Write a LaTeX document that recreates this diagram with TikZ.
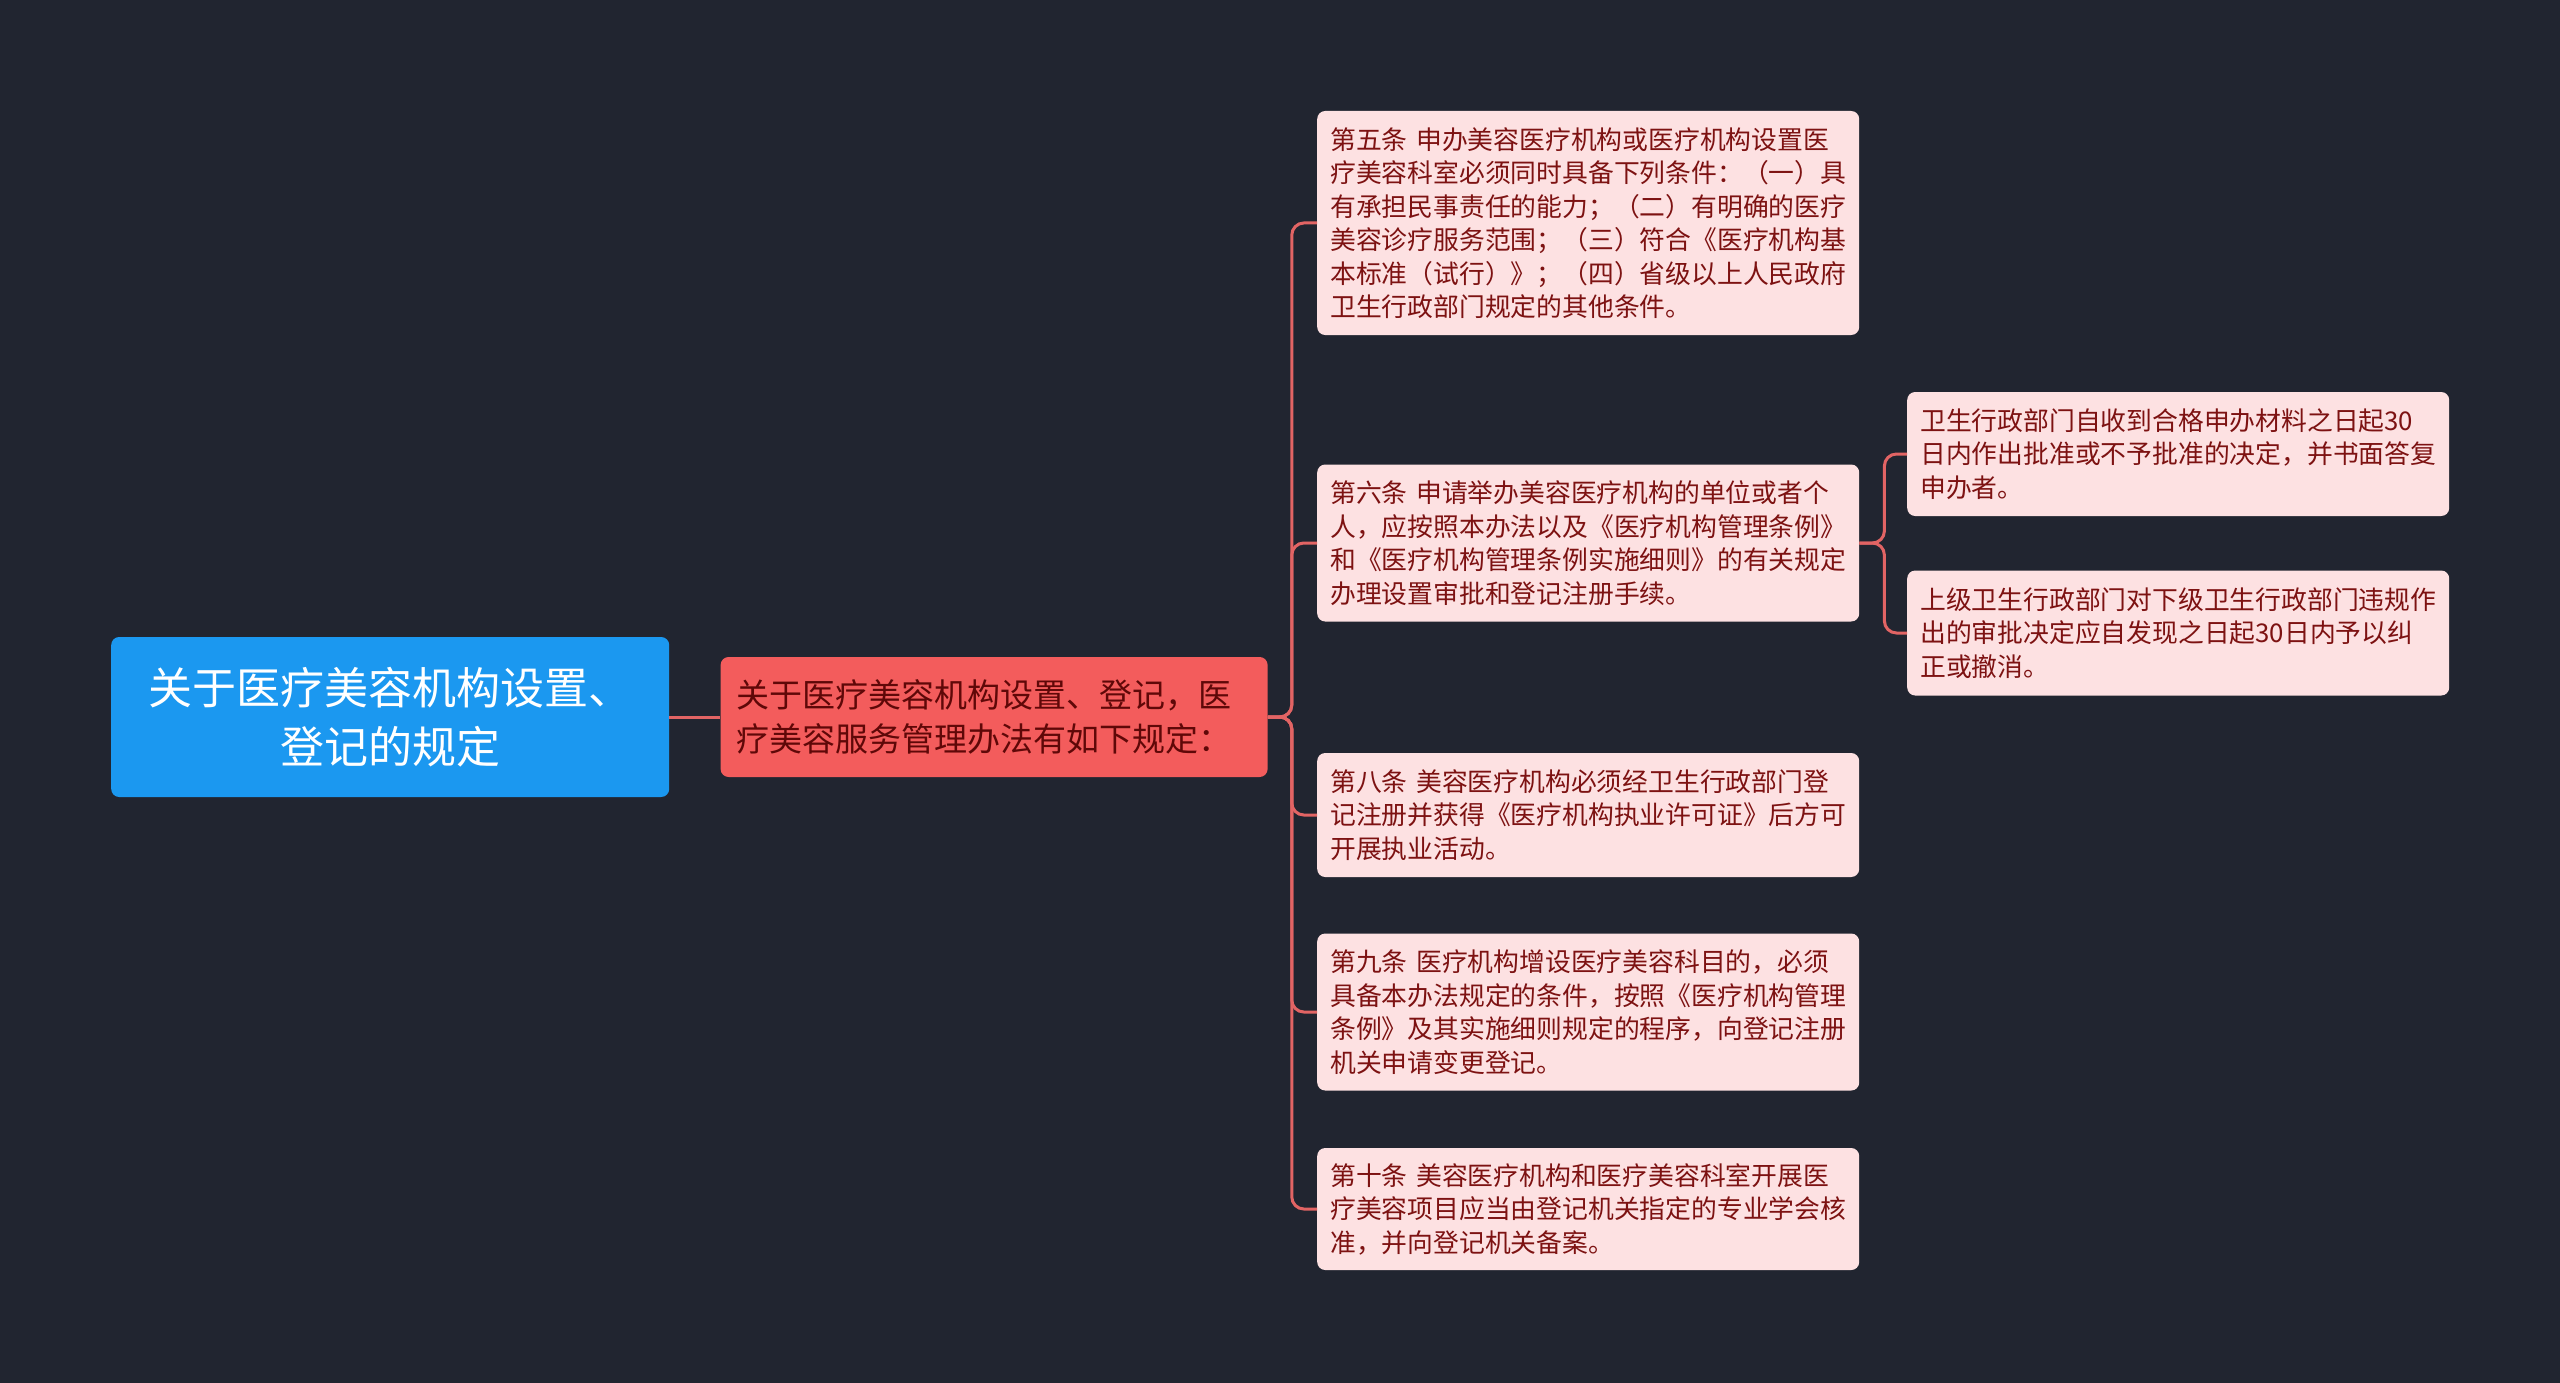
\documentclass[tikz,border=0pt]{standalone}
\usepackage{fontspec}
\newfontfamily\cjk{Noto Sans CJK SC}
\usetikzlibrary{positioning}

\definecolor{bgcol}{RGB}{33,37,48}
\definecolor{rootblue}{RGB}{27,152,240}
\definecolor{topicred}{RGB}{243,92,92}
\definecolor{topictext}{RGB}{95,8,8}
\definecolor{leafpink}{RGB}{253,225,226}
\definecolor{leaftext}{RGB}{125,18,18}
\definecolor{linered}{RGB}{226,100,100}

\tikzset{
	mapbox/.style={rounded corners=8pt, inner xsep=14pt, inner ysep=0pt, anchor=west},
	rootnode/.style={mapbox, fill=rootblue, text=white, align=center, text width=530pt, minimum height=160pt, font=\cjk\fontsize{44}{59}\selectfont},
	topicnode/.style={mapbox, fill=topicred, text=topictext, align=left, inner xsep=16pt, text width=515pt, minimum height=120pt, font=\cjk\fontsize{33}{44}\selectfont},
	leafnode/.style={mapbox, fill=leafpink, text=leaftext, align=left, text width=516pt, inner xsep=13pt, font=\cjk\fontsize{25.8}{33.5}\selectfont},
	branch/.style={draw=linered, line width=3pt, rounded corners=12pt},
}

\begin{document}
\begin{tikzpicture}[x=1pt,y=-1pt]
		\fill[bgcol] (0,0) rectangle (2560,1383);
		\useasboundingbox (0,0) rectangle (2560,1383);
		% main topic
		\node[rootnode] (root) at (111,717) {关于医疗美容机构设置、\\登记的规定};
		\node[topicnode, right=51pt of root] (topic) {关于医疗美容机构设置、登记，医\\疗美容服务管理办法有如下规定：};
		% articles
		\node[leafnode, minimum height=224pt] (art5) at (1317,223) {第五条 申办美容医疗机构或医疗机构设置医\\疗美容科室必须同时具备下列条件：（一）具\\有承担民事责任的能力；（二）有明确的医疗\\美容诊疗服务范围；（三）符合《医疗机构基\\本标准（试行）》；（四）省级以上人民政府\\卫生行政部门规定的其他条件。};
		\node[leafnode, minimum height=157pt] (art6) at (1317,543) {第六条 申请举办美容医疗机构的单位或者个\\人，应按照本办法以及《医疗机构管理条例》\\和《医疗机构管理条例实施细则》的有关规定\\办理设置审批和登记注册手续。};
		\node[leafnode, minimum height=124pt] (art8) at (1317,815) {第八条 美容医疗机构必须经卫生行政部门登\\记注册并获得《医疗机构执业许可证》后方可\\开展执业活动。};
		\node[leafnode, minimum height=157pt] (art9) at (1317,1012) {第九条 医疗机构增设医疗美容科目的，必须\\具备本办法规定的条件，按照《医疗机构管理\\条例》及其实施细则规定的程序，向登记注册\\机关申请变更登记。};
		\node[leafnode, minimum height=122pt] (art10) at (1317,1209) {第十条 美容医疗机构和医疗美容科室开展医\\疗美容项目应当由登记机关指定的专业学会核\\准，并向登记机关备案。};
		% details of art. 6
		\node[leafnode, minimum height=124pt] (approve) at (1907,454) {卫生行政部门自收到合格申办材料之日起30\\日内作出批准或不予批准的决定，并书面答复\\申办者。};
		\node[leafnode, minimum height=125pt] (revoke) at (1907,633) {上级卫生行政部门对下级卫生行政部门违规作\\出的审批决定应自发现之日起30日内予以纠\\正或撤消。};
		% connectors
		\draw[branch] (root.east) -- (topic.west);
		\foreach \leaf in {art5,art6,art8,art9,art10}
			\draw[branch] (topic.east) -- ++(24,0) |- (\leaf.west);
		\foreach \leaf in {approve,revoke}
			\draw[branch] (art6.east) -- ++(25,0) |- (\leaf.west);
	\end{tikzpicture}
\end{document}
